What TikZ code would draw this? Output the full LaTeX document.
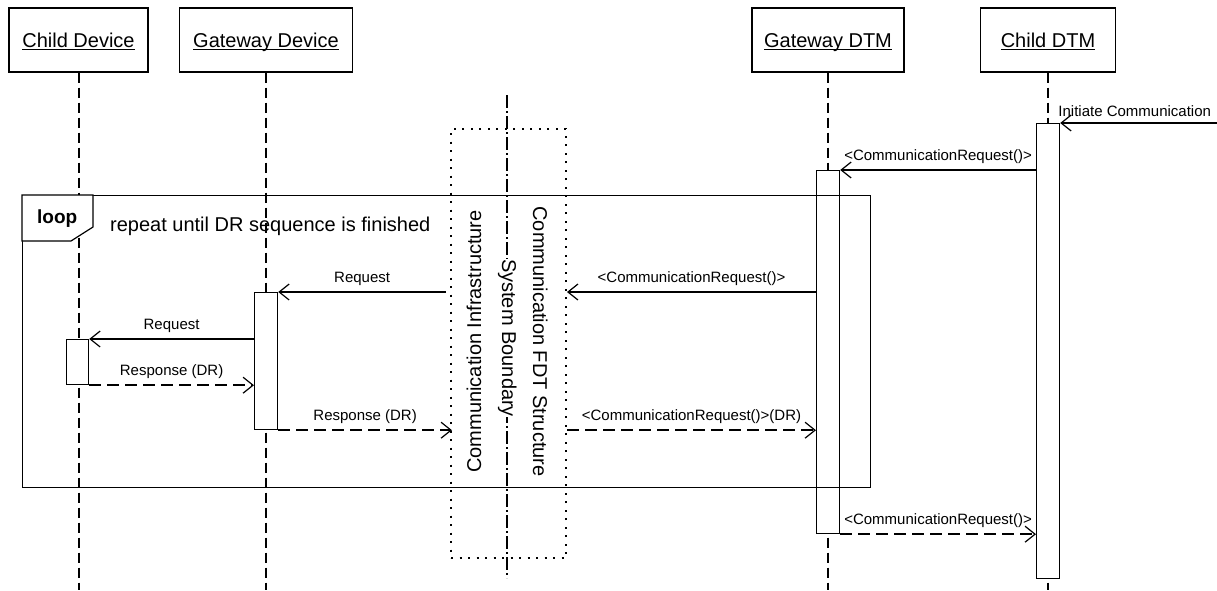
\documentclass[tikz,border=0pt]{standalone}
\usepackage{fontspec}
\setmainfont{Liberation Sans}
\usetikzlibrary{arrows.meta,calc}

\begin{document}
\begin{tikzpicture}[x=1pt,y=-1pt,
  header/.style={draw, line width=1.2pt, minimum height=64pt, inner sep=0pt,
    text height=16pt, text depth=1pt, font=\fontsize{20}{24}\selectfont},
  lifeline/.style={line width=2pt, dash pattern=on 10pt off 5pt},
  boundary/.style={line width=2.5pt, dash pattern=on 13pt off 3pt on 2pt off 3pt},
  infrabox/.style={draw, line width=2pt, dash pattern=on 2pt off 6.5pt,
    anchor=north west, inner sep=0pt, minimum width=115pt, minimum height=429pt},
  bar/.style={draw, fill=white, line width=1.2pt, anchor=north west, inner sep=0pt,
    minimum width=23pt},
  frame/.style={draw, line width=1.2pt, anchor=north west, inner sep=0pt,
    minimum width=848pt, minimum height=292pt},
  msg/.style={line width=1.2pt, -{Straight Barb[length=10pt,width=16pt,line width=1.2pt]}},
  reply/.style={msg, line width=2pt, dash pattern=on 12pt off 6pt},
  lbl/.style={font=\fontsize{15}{18}\selectfont, inner sep=0pt, anchor=base,
    midway, yshift=10pt},
  vtext/.style={font=\fontsize{20}{24}\selectfont, inner sep=0pt, anchor=base},
]
\useasboundingbox (0,0) rectangle (1217,590);
\coordinate (floor) at (0,590);

% participants
\node[header, minimum width=139pt] (hcd) at (78.5,40) {\underline{\smash{Child Device}}};
\node[header, minimum width=173pt] (hgd) at (266,40) {\underline{\smash{Gateway Device}}};
\node[header, minimum width=152pt] (hgt) at (828,40) {\underline{\smash{Gateway DTM}}};
\node[header, minimum width=135pt] (hct) at (1048,40) {\underline{\smash{Child DTM}}};

% lifelines
\foreach \h in {hcd,hgd,hgt,hct}
  \draw[lifeline] (\h.south) -- (\h.south |- floor);

% system boundary and communication infrastructure
\coordinate (sbtop) at (507,95);
\coordinate (sbbot) at (507,578);
\draw[boundary] (sbtop) -- (sbbot);
\node[infrabox] (infra) at (450,128) {};
\coordinate (infraIn) at ([xshift=-4pt]infra.west);
\coordinate (infraTip) at ([xshift=2pt]infra.west);

\node[vtext, rotate=90] (ci) at (481,341.5) {Communication Infrastructure};
\node[vtext, rotate=-90] (cf) at (533,341.5) {Communication FDT Structure};
\node[vtext, rotate=-90, fill=white, inner sep=0.5pt] (sb) at (502,338) {System Boundary};

% activation bars
\node[bar, minimum width=22pt, minimum height=45pt] (cdbar) at (66,339) {};
\node[bar, minimum height=137pt] (gdbar) at (254,292) {};
\node[bar, minimum height=363pt] (gtbar) at (816,170) {};
\node[bar, minimum height=455pt] (ctbar) at (1036,123) {};

% loop fragment
\node[frame] (loop) at (22,195) {};
\draw[line width=1.2pt, fill=white] (loop.north west) -- ++(71,0) -- ++(0,32)
  -- ++(-22,14) -- ++(-49,0) -- cycle;
\node[font=\fontsize{19}{22}\selectfont\bfseries, inner sep=0pt, anchor=base west]
  (looptag) at ($(loop.north west)+(15,28)$) {loop};
\node[font=\fontsize{20}{24}\selectfont, inner sep=0pt, anchor=base west]
  (loopcond) at ($(loop.north west)+(88,36)$) {repeat until DR sequence is finished};

% messages
\coordinate (ext) at (1217,123);
\draw[msg] (ext) -- (ctbar.north east);
\node[font=\fontsize{15}{18}\selectfont, inner sep=0pt, anchor=base west]
  (initlbl) at ([xshift=-2pt,yshift=7pt]ctbar.north east) {Initiate Communication};

\draw[msg] (ctbar.west |- gtbar.north) -- node[lbl]{<CommunicationRequest()>} (gtbar.north east);
\draw[msg] (gtbar.west |- gdbar.north) -- node[lbl]{<CommunicationRequest()>} (infra.east |- gdbar.north);
\draw[msg] (infraIn |- gdbar.north) -- node[lbl]{Request} (gdbar.north east);
\draw[msg] (gdbar.west |- cdbar.north) -- node[lbl]{Request} (cdbar.north east);
\draw[reply] (cdbar.south east) -- node[lbl]{Response (DR)} (gdbar.west |- cdbar.south);
\draw[reply] (gdbar.south east) -- node[lbl]{Response (DR)} (infraTip |- gdbar.south);
\draw[reply] (infra.east |- gdbar.south) -- node[lbl]{<CommunicationRequest()>(DR)} (gtbar.west |- gdbar.south);
\draw[reply] (gtbar.south east) -- node[lbl]{<CommunicationRequest()>} (ctbar.west |- gtbar.south);
\end{tikzpicture}
\end{document}
